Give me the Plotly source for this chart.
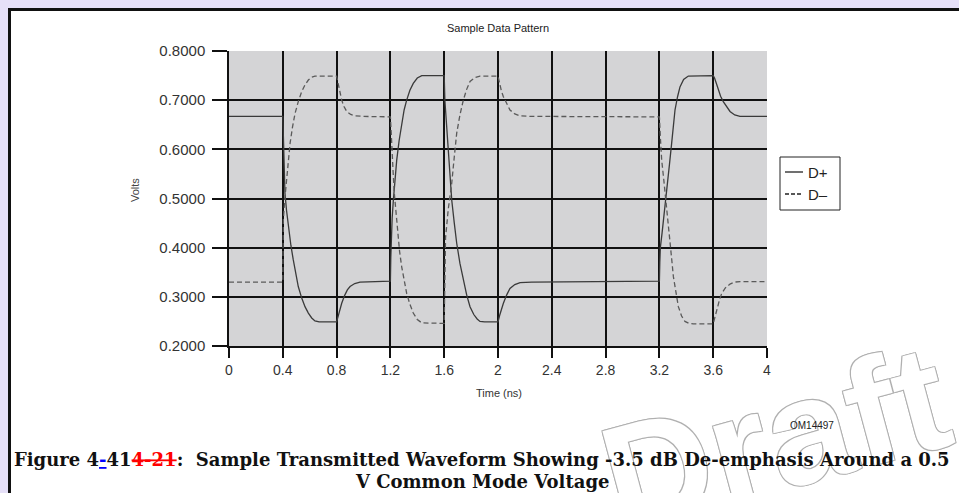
import plotly.graph_objects as go

# ---- data (time in ns, volts) ----
dp_t = [0.000, 0.400,
        0.403, 0.410, 0.416, 0.428, 0.441, 0.460, 0.478, 0.497, 0.515, 0.540, 0.565, 0.590, 0.615, 0.639, 0.670, 0.800,
        0.812, 0.825, 0.838, 0.860, 0.880, 0.900, 0.935, 0.974, 1.050, 1.200,
        1.203, 1.206, 1.213, 1.222, 1.234, 1.247, 1.265, 1.284, 1.302, 1.321, 1.345, 1.370, 1.400, 1.433, 1.600,
        1.605, 1.618, 1.631, 1.643, 1.656, 1.675, 1.693, 1.717, 1.742, 1.767, 1.792, 1.820, 1.845, 1.866, 1.900, 2.000,
        2.012, 2.025, 2.040, 2.065, 2.089, 2.125, 2.164, 2.250, 3.200,
        3.203, 3.207, 3.220, 3.234, 3.247, 3.259, 3.275, 3.291, 3.304, 3.316, 3.335, 3.353, 3.380, 3.415, 3.600,
        3.610, 3.625, 3.638, 3.655, 3.675, 3.700, 3.725, 3.760, 3.799, 4.000]
dp_v = [0.667, 0.667,
        0.640, 0.560, 0.511, 0.475, 0.443, 0.405, 0.375, 0.346, 0.321, 0.298, 0.280, 0.267, 0.257, 0.251, 0.249, 0.249,
        0.262, 0.276, 0.287, 0.303, 0.314, 0.321, 0.327, 0.330, 0.331, 0.332,
        0.380, 0.420, 0.460, 0.497, 0.540, 0.578, 0.618, 0.653, 0.680, 0.700, 0.720, 0.734, 0.745, 0.750, 0.750,
        0.700, 0.650, 0.599, 0.548, 0.497, 0.450, 0.409, 0.368, 0.334, 0.304, 0.280, 0.264, 0.255, 0.250, 0.249, 0.249,
        0.262, 0.276, 0.287, 0.304, 0.317, 0.325, 0.329, 0.330, 0.332,
        0.370, 0.400, 0.430, 0.463, 0.494, 0.524, 0.570, 0.612, 0.650, 0.680, 0.707, 0.727, 0.742, 0.749, 0.750,
        0.745, 0.733, 0.721, 0.708, 0.697, 0.686, 0.677, 0.670, 0.667, 0.667]

dm_t = [0.000, 0.400,
        0.402, 0.404, 0.416, 0.429, 0.441, 0.454, 0.472, 0.491, 0.515, 0.540, 0.565, 0.590, 0.615, 0.639, 0.800,
        0.810, 0.825, 0.838, 0.855, 0.875, 0.905, 0.937, 1.000, 1.200,
        1.205, 1.210, 1.220, 1.229, 1.241, 1.254, 1.268, 1.284, 1.302, 1.321, 1.345, 1.370, 1.400, 1.433, 1.600,
        1.605, 1.610, 1.630, 1.656, 1.675, 1.693, 1.717, 1.742, 1.767, 1.792, 1.830, 1.866, 2.000,
        2.010, 2.025, 2.040, 2.065, 2.089, 2.125, 2.164, 2.250, 3.200,
        3.208, 3.217, 3.233, 3.249, 3.264, 3.279, 3.291, 3.304, 3.322, 3.341, 3.365, 3.390, 3.420, 3.452, 3.600,
        3.612, 3.626, 3.645, 3.663, 3.690, 3.725, 3.760, 3.799, 4.000]
dm_v = [0.330, 0.330,
        0.400, 0.456, 0.502, 0.544, 0.580, 0.612, 0.645, 0.673, 0.697, 0.717, 0.731, 0.741, 0.747, 0.749, 0.749,
        0.735, 0.714, 0.700, 0.687, 0.677, 0.671, 0.668, 0.667, 0.666,
        0.640, 0.599, 0.555, 0.511, 0.470, 0.429, 0.393, 0.361, 0.332, 0.307, 0.285, 0.267, 0.254, 0.247, 0.246,
        0.330, 0.420, 0.478, 0.531, 0.585, 0.633, 0.670, 0.700, 0.722, 0.738, 0.746, 0.749, 0.749,
        0.735, 0.719, 0.707, 0.692, 0.680, 0.672, 0.668, 0.667, 0.666,
        0.620, 0.578, 0.537, 0.497, 0.456, 0.416, 0.378, 0.341, 0.308, 0.280, 0.261, 0.250, 0.246, 0.245, 0.245,
        0.258, 0.273, 0.292, 0.307, 0.318, 0.326, 0.330, 0.331, 0.331]

assert len(dp_t) == len(dp_v) and len(dm_t) == len(dm_v)

x_ticks = [0, 0.4, 0.8, 1.2, 1.6, 2, 2.4, 2.8, 3.2, 3.6, 4]
x_tick_labels = ["0", "0.4", "0.8", "1.2", "1.6", "2", "2.4", "2.8", "3.2", "3.6", "4"]
y_ticks = [0.2, 0.3, 0.4, 0.5, 0.6, 0.7, 0.8]
y_tick_labels = ["0.2000", "0.3000", "0.4000", "0.5000", "0.6000", "0.7000", "0.8000"]

series_names = ["D+", "D\u2013"]

# ---- layout geometry (pixels) ----
W, H = 959, 493
L, R, T, B = 229, 767, 51, 346


def px(x):
    return (x - L) / (R - L)


def py(y):
    return (B - y) / (B - T)


fig = go.Figure()
fig.add_trace(go.Scatter(x=dp_t, y=dp_v, mode="lines", name=series_names[0],
                         line=dict(color="#3a3a3a", width=1.3), showlegend=False))
fig.add_trace(go.Scatter(x=dm_t, y=dm_v, mode="lines", name=series_names[1],
                         line=dict(color="#5a5a5a", width=1.3, dash="5px,3px"),
                         showlegend=False))

sans = "Liberation Sans, Arial, sans-serif"
serif = "DejaVu Serif, Liberation Serif, serif"
lav = "#E6E0F8"

shapes = [
    dict(type="rect", xref="paper", yref="paper", x0=px(0), x1=px(W), y0=py(0), y1=py(8),
         fillcolor=lav, line=dict(width=0), layer="below"),
    dict(type="rect", xref="paper", yref="paper", x0=px(0), x1=px(8), y0=py(H), y1=py(0),
         fillcolor=lav, line=dict(width=0), layer="below"),
    dict(type="line", xref="paper", yref="paper", x0=px(8), x1=px(W + 5), y0=py(9.5), y1=py(9.5),
         line=dict(color="#111", width=3)),
    dict(type="line", xref="paper", yref="paper", x0=px(9.5), x1=px(9.5), y0=py(8), y1=py(H + 5),
         line=dict(color="#111", width=3)),
    dict(type="rect", xref="paper", yref="paper", x0=px(780), x1=px(840), y0=py(210), y1=py(157),
         line=dict(color="#222", width=1), fillcolor="white"),
    dict(type="line", xref="paper", yref="paper", x0=px(785), x1=px(803), y0=py(172), y1=py(172),
         line=dict(color="#222", width=1.3)),
    dict(type="line", xref="paper", yref="paper", x0=px(785), x1=px(803), y0=py(194), y1=py(194),
         line=dict(color="#222", width=1.3, dash="4px,2px")),
]


def ann(text, x, y, size, family=sans, color="#222", xanchor="center", **kw):
    return dict(text=text, xref="paper", yref="paper", x=px(x), y=py(y), showarrow=False,
                xanchor=xanchor, yanchor="middle",
                font=dict(family=family, size=size, color=color), **kw)


wm = ann("Draft", 775, 438, 150, color="white", textangle=-15)
wm["font"].update(weight="bold",
                  shadow="-1px -1px 0 #b0b0b0, 1px -1px 0 #b0b0b0, -1px 1px 0 #b0b0b0, 1px 1px 0 #b0b0b0")

caption1 = ("<b>Figure 4<span style='color:#0000ff;text-decoration:underline'>-</span>41"
            "<span style='color:#ff0000;text-decoration:line-through'>4-21</span>:  Sample Transmitted "
            "Waveform Showing -3.5 dB De-emphasis Around a 0.5</b>")

annotations = [
    wm,
    ann("Sample Data Pattern", 498, 28, 11),
    ann("Volts", 135, 190, 11, color="#444", textangle=-90),
    ann("Time (ns)", 499, 393, 11, color="#333"),
    ann(series_names[0], 806, 172, 15, xanchor="left"),
    ann(series_names[1], 806, 194, 15, xanchor="left"),
    ann("OM14497", 812, 425, 10),
    ann(caption1, 482, 459, 18, family=serif, color="#111"),
    ann("<b>V Common Mode Voltage</b>", 482, 481, 18, family=serif, color="#111"),
]

fig.update_layout(
    width=W, height=H,
    margin=dict(l=L, r=W - R, t=T, b=H - B, pad=0),
    paper_bgcolor="white",
    plot_bgcolor="#D4D4D6",
    shapes=shapes,
    annotations=annotations,
    showlegend=False,
    xaxis=dict(range=[0, 4], tickvals=x_ticks, ticktext=x_tick_labels,
               showgrid=True, gridcolor="#111", gridwidth=1.5,
               showline=True, linecolor="#111", linewidth=1.5,
               ticks="outside", ticklen=10, tickwidth=1.5, tickcolor="#111",
               tickfont=dict(family=sans, size=14, color="#333"),
               zeroline=False, fixedrange=True),
    yaxis=dict(range=[0.2, 0.8], tickvals=y_ticks, ticktext=y_tick_labels,
               showgrid=True, gridcolor="#111", gridwidth=1.5,
               showline=True, linecolor="#111", linewidth=1.5,
               ticks="outside", ticklen=15, tickwidth=1.5, tickcolor="#111",
               tickfont=dict(family=sans, size=15, color="#333"),
               ticklabelstandoff=4,
               zeroline=False, fixedrange=True),
)

fig.write_html("out.html")
